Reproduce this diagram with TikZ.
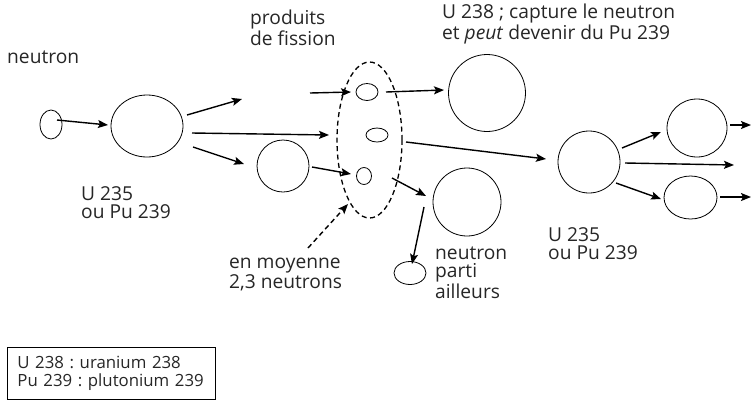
\documentclass[tikz,border=0pt]{standalone}
\usepackage{fontspec}
\setmainfont{Open Sans}
\frenchspacing
\usetikzlibrary{arrows.meta,shapes.geometric}
\begin{document}
\begin{tikzpicture}[x=1pt,y=-1pt,
  lbl/.style={font=\fontsize{19.2}{18}\selectfont, inner sep=0pt, align=left, anchor=base west, text=black!85},
  ball/.style={draw, ellipse, inner sep=0pt, line width=0.8pt},
  arr/.style={line width=1.4pt, -{Stealth[length=10pt,width=8pt,inset=2pt]}},
  dasharr/.style={arr, dash pattern=on 5pt off 3.5pt}]
\useasboundingbox (0,0) rectangle (751,400);
% particles
\node[ball, minimum width=22pt, minimum height=29pt] (n0) at (51,124.5) {};
\node[ball, minimum width=72pt, minimum height=62pt] (u235a) at (147,126) {};
\node[ball, minimum width=52pt, minimum height=52pt] (frag) at (283,166) {};
\node[draw, ellipse, inner sep=0pt, line width=1.3pt, dash pattern=on 5pt off 3.5pt, minimum width=65pt, minimum height=156pt] (cloud) at (369.5,140) {};
\node[ball, minimum width=22pt, minimum height=17pt] (e1) at (367,92) {};
\node[ball, minimum width=22pt, minimum height=14pt] (e2) at (377,135) {};
\node[ball, minimum width=15pt, minimum height=17pt] (e3) at (364,176) {};
\node[ball, minimum width=77pt, minimum height=77pt] (u238) at (487,93) {};
\node[ball, minimum width=68pt, minimum height=68pt] (cr) at (467,202) {};
\node[ball, minimum width=32pt, minimum height=23pt] (away) at (410,273) {};
\node[ball, minimum width=62pt, minimum height=62pt] (u235b) at (589,162) {};
\node[ball, minimum width=60pt, minimum height=58pt] (rtop) at (697,128) {};
\node[ball, minimum width=53pt, minimum height=43pt] (rbot) at (690.5,197.5) {};
% connector end points
\coordinate (a1s) at (57,120);   \coordinate (a1e) at (108,125);
\coordinate (a2s) at (187,115);  \coordinate (a2e) at (242,99);
\coordinate (a3s) at (192,133);  \coordinate (a3e) at (329,135);
\coordinate (a4s) at (193,147);  \coordinate (a4e) at (244,164);
\coordinate (a5s) at (310,93);   \coordinate (a5e) at (351,92);
\coordinate (a6s) at (386,92);   \coordinate (a6e) at (444,90);
\coordinate (a7s) at (312,167);  \coordinate (a7e) at (351,174);
\coordinate (a8s) at (406,142);  \coordinate (a8e) at (546,159);
\coordinate (a9s) at (392,178);  \coordinate (a9e) at (426,196);
\coordinate (a10s) at (424,207); \coordinate (a10e) at (412,264);
\coordinate (a11s) at (308,248); \coordinate (a11e) at (348,204);
\coordinate (a12s) at (622,148); \coordinate (a12e) at (661,132);
\coordinate (a13s) at (625,163); \coordinate (a13e) at (734,165);
\coordinate (a14s) at (616,183); \coordinate (a14e) at (661,199);
\coordinate (a15s) at (730,125); \coordinate (a15e) at (751,125);
\coordinate (a16s) at (720,197); \coordinate (a16e) at (751,197);
\draw[arr] (a1s) -- (a1e);
\draw[arr] (a2s) -- (a2e);
\draw[arr] (a3s) -- (a3e);
\draw[arr] (a4s) -- (a4e);
\draw[arr] (a5s) -- (a5e);
\draw[arr] (a6s) -- (a6e);
\draw[arr] (a7s) -- (a7e);
\draw[arr] (a8s) -- (a8e);
\draw[arr] (a9s) -- (a9e);
\draw[arr] (a10s) -- (a10e);
\draw[dasharr] (a11s) -- (a11e);
\draw[arr] (a12s) -- (a12e);
\draw[arr] (a13s) -- (a13e);
\draw[arr] (a14s) -- (a14e);
\draw[arr] (a15s) -- (a15e);
\draw[arr] (a16s) -- (a16e);
% labels (anchor = baseline of the last line)
\node[lbl] (tneutron) at (7,63) {neutron};
\node[lbl] (tu235a) at (81,218) {U 235\\ou Pu 239};
\node[lbl] (tprod) at (250,45) {produits\\de fission};
\node[lbl] (tu238) at (442,39) {U 238 ; capture le neutron\\et \textit{peut} devenir du Pu 239};
\node[lbl] (tmoy) at (229,288) {en moyenne\\2,3 neutrons};
\node[lbl] (taway) at (435,298) {neutron\\parti\\ailleurs};
\node[lbl] (tu235b) at (548,259) {U 235\\ou Pu 239};
\node[draw, line width=0.8pt, anchor=north west, minimum width=208pt, minimum height=52pt,
      inner xsep=10pt, inner ysep=0pt, text width=188pt, align=left,
      font=\fontsize{16.8}{18}\selectfont, text=black!85] (legend) at (7,347)
  {U 238 : uranium 238\\Pu 239 : plutonium 239};
\end{tikzpicture}
\end{document}
